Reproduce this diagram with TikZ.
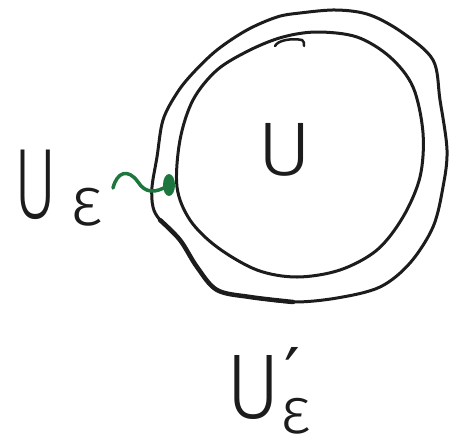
\documentclass[tikz,border=0pt]{standalone}
\usepackage{fontspec}
\setmainfont{Fira Sans}[UprightFont=* Light]
\newfontfamily\primefont{DejaVu Sans}
\definecolor{pen}{RGB}{28,28,28}
\definecolor{mossgreen}{RGB}{28,118,62}
\tikzset{
  setline/.style={draw=pen, line width=3pt},
  hand/.style={inner sep=0pt, text=pen},
}

\begin{document}
\begin{tikzpicture}[x=1pt, y=-1pt, line join=round, line cap=round]
  \useasboundingbox (0,0) rectangle (449,442);
  % outer neighbourhood U'_eps
  \draw[setline] plot[smooth cycle, tension=0.55] coordinates {
    (152,187) (157,157) (163,120) (177,93) (193,73) (217,50) (247,30)
    (277,17) (300,13) (337,10) (370,15) (403,33) (433,60) (440,100)
    (447,150) (443,187) (433,227) (410,263) (380,287) (337,298)
    (293,302) (250,297) (217,290) (197,267) (180,240) (160,220) (153,207)};
  % heavier stroke at the lower left
  \draw[pen, line width=4.5pt] plot[smooth, tension=0.55] coordinates {
    (160,220) (180,240) (197,267) (217,290) (250,297) (293,302)};
  % inner set U
  \draw[setline] plot[smooth cycle, tension=0.55] coordinates {
    (177,187) (180,140) (193,100) (217,70) (250,50) (283,37) (317,32)
    (357,37) (390,57) (413,87) (423,133) (420,177) (403,217) (377,250)
    (340,270) (297,277) (257,270) (217,247) (190,220)};
  % small tick on top
  \draw[pen, line width=2.5pt] (275,46) .. controls (278,40) and (292,38) .. (302,40)
    .. controls (304,42) .. (304,46);
  % labels
  \node[hand, font=\fontsize{76}{76}\selectfont] (u) at (285,150) {\scalebox{1.1}[1]{U}};
  \node[hand, anchor=base west, font=\fontsize{100}{100}\selectfont] (ueps) at (14,218)
    {\scalebox{0.65}[1]{U}\hspace{14pt}\raisebox{-7pt}{\fontsize{70}{70}\selectfont ε}};
  \node[hand, anchor=base west, font=\fontsize{92}{92}\selectfont] (uprime) at (226,418)
    {\scalebox{0.9}[1]{U}\rlap{\hspace{4pt}\raisebox{20pt}{\primefont\fontsize{70}{70}\selectfont ′}}\raisebox{-15pt}{\fontsize{66}{66}\selectfont ε}};
  % green pointer
  \coordinate (sqstart) at (113,188);
  \coordinate (dot) at (169,185);
  \draw[mossgreen, line width=3.5pt] (sqstart) .. controls (117,172) and (128,168) .. (138,182)
    .. controls (145,193) and (155,194) .. (dot);
  \fill[mossgreen] (dot) ellipse (6 and 11);
\end{tikzpicture}
\end{document}
